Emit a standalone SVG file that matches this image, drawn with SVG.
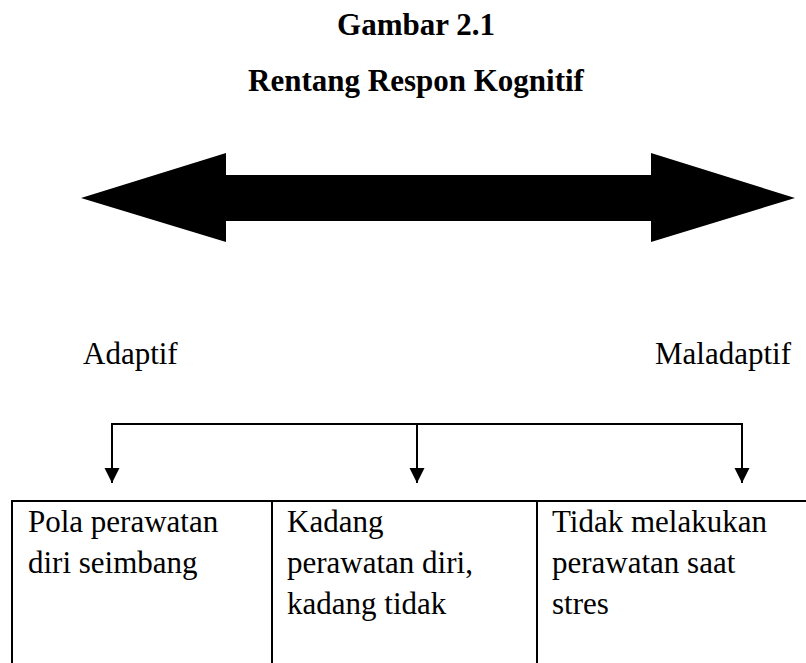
<svg xmlns="http://www.w3.org/2000/svg" width="806" height="663" viewBox="0 0 806 663">
<style>
.t{font-family:"Liberation Serif","Times New Roman",serif;font-size:31px;fill:#000}
.b{font-weight:bold;text-anchor:middle}
.ln{stroke:#000;stroke-width:2;fill:none}
</style>
<defs>
<marker id="ah" markerWidth="16" markerHeight="16" refX="15" refY="7.5" orient="auto" markerUnits="userSpaceOnUse">
<path d="M0,0 L15,7.5 L0,15 Z" fill="#000"/>
</marker>
</defs>
<rect width="806" height="663" fill="#fff"/>
<g id="title">
<text class="t b" x="416" y="35">Gambar 2.1</text>
<text class="t b" x="416" y="91">Rentang Respon Kognitif</text>
</g>
<g id="range-arrow">
<polygon points="81,198 226,153 226,175 651,175 651,153 795,198 651,242 651,221 226,221 226,242" fill="#000"/>
</g>
<g id="label-adaptif"><text class="t" x="83" y="364">Adaptif</text></g>
<g id="label-maladaptif"><text class="t" x="655" y="364">Maladaptif</text></g>
<g id="connectors">
<line class="ln" x1="111" y1="424" x2="743" y2="424"/>
<line class="ln" x1="112" y1="424" x2="112" y2="483" marker-end="url(#ah)"/>
<line class="ln" x1="417" y1="424" x2="417" y2="483" marker-end="url(#ah)"/>
<line class="ln" x1="742" y1="424" x2="742" y2="483" marker-end="url(#ah)"/>
</g>
<g id="table-lines">
<line class="ln" x1="11" y1="501" x2="806" y2="501"/>
<line class="ln" x1="12" y1="500" x2="12" y2="663"/>
<line class="ln" x1="272" y1="500" x2="272" y2="663"/>
<line class="ln" x1="537" y1="500" x2="537" y2="663"/>
</g>
<g id="cell-adaptif">
<text class="t" x="28" y="532">Pola perawatan</text>
<text class="t" x="28" y="573">diri seimbang</text>
</g>
<g id="cell-middle">
<text class="t" x="287" y="532">Kadang</text>
<text class="t" x="287" y="573">perawatan diri,</text>
<text class="t" x="287" y="614">kadang tidak</text>
</g>
<g id="cell-maladaptif">
<text class="t" x="552" y="532">Tidak melakukan</text>
<text class="t" x="552" y="573">perawatan saat</text>
<text class="t" x="552" y="614">stres</text>
</g>
</svg>
